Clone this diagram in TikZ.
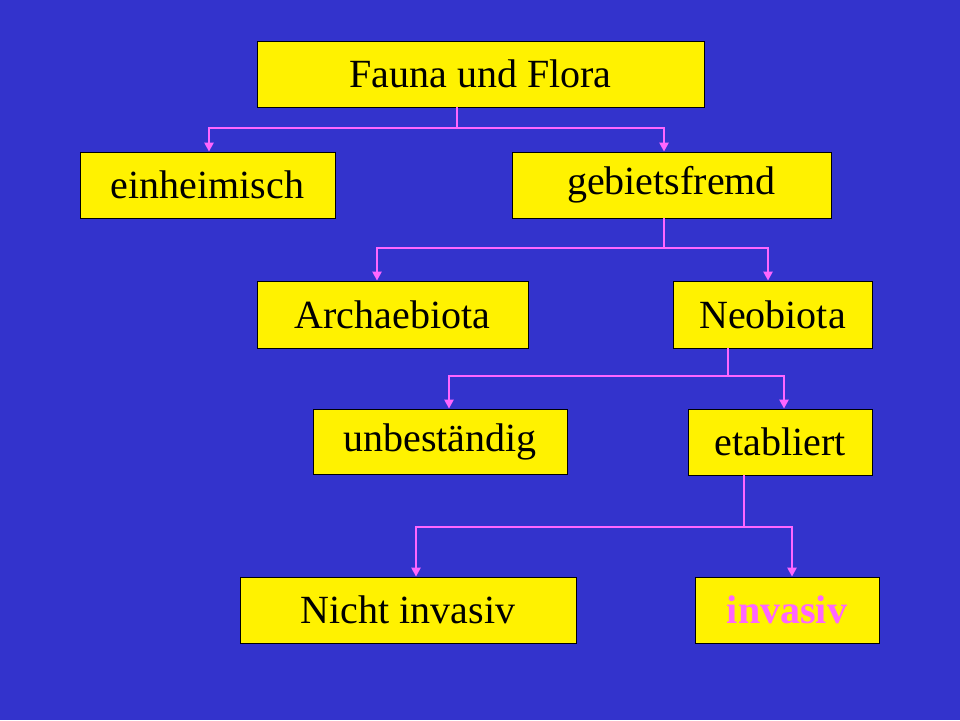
\documentclass[tikz,border=0pt]{standalone}
\usepackage{fontspec}
\setmainfont{Liberation Serif}
\usetikzlibrary{arrows.meta}
\definecolor{bg}{HTML}{3333CC}
\definecolor{pk}{HTML}{FF66FF}
\tikzset{
 box/.style={fill=yellow,draw=black,line width=0.8pt,inner sep=0,font=\fontsize{40}{44}\selectfont},
 conn/.style={pk,line width=2.5pt,-{Triangle[length=9pt,width=9pt]}}
}
\begin{document}
\begin{tikzpicture}[x=1pt,y=-1pt]
\fill[bg] (0,0) rectangle (960,720);
\useasboundingbox (0,0) rectangle (960,720);
\newcommand\bx[6]{\node[box,minimum width=#4-#2,minimum height=#5-#3] (#1) at ({(#2+#4)/2},{(#3+#5)/2}) {#6};}
\bx{fa}{257}{41}{704}{107}{Fauna und Flora}
\bx{ei}{80}{152}{335}{218}{einheimisch}
\bx{ge}{512}{152}{831}{218}{gebietsfremd}
\bx{ar}{257}{281}{528}{348}{Archaebiota}
\bx{ne}{673}{281}{872}{348}{Neobiota}
\bx{un}{313}{409}{567}{474}{unbeständig}
\bx{et}{688}{409}{872}{475}{etabliert}
\bx{ni}{240}{577}{576}{643}{Nicht invasiv}
\bx{in}{695}{577}{879}{643}{\textcolor{pk}{\bfseries invasiv}}
\coordinate (c1) at (457,128);
\coordinate (c2) at (664,248);
\coordinate (c3) at (728,376);
\coordinate (c4) at (744,527);
\draw[pk,line width=2.5pt] (fa.south -| c1) -- (c1);
\draw[conn] (c1) -| (ei.north -| 209,0);
\draw[conn] (c1) -| (ge.north -| 664,0);
\draw[pk,line width=2.5pt] (ge.south -| c2) -- (c2);
\draw[conn] (c2) -| (ar.north -| 377,0);
\draw[conn] (c2) -| (ne.north -| 768,0);
\draw[pk,line width=2.5pt] (ne.south -| c3) -- (c3);
\draw[conn] (c3) -| (un.north -| 449,0);
\draw[conn] (c3) -| (et.north -| 784,0);
\draw[pk,line width=2.5pt] (et.south -| c4) -- (c4);
\draw[conn] (c4) -| (ni.north -| 416,0);
\draw[conn] (c4) -| (in.north -| 792,0);
\end{tikzpicture}
\end{document}
